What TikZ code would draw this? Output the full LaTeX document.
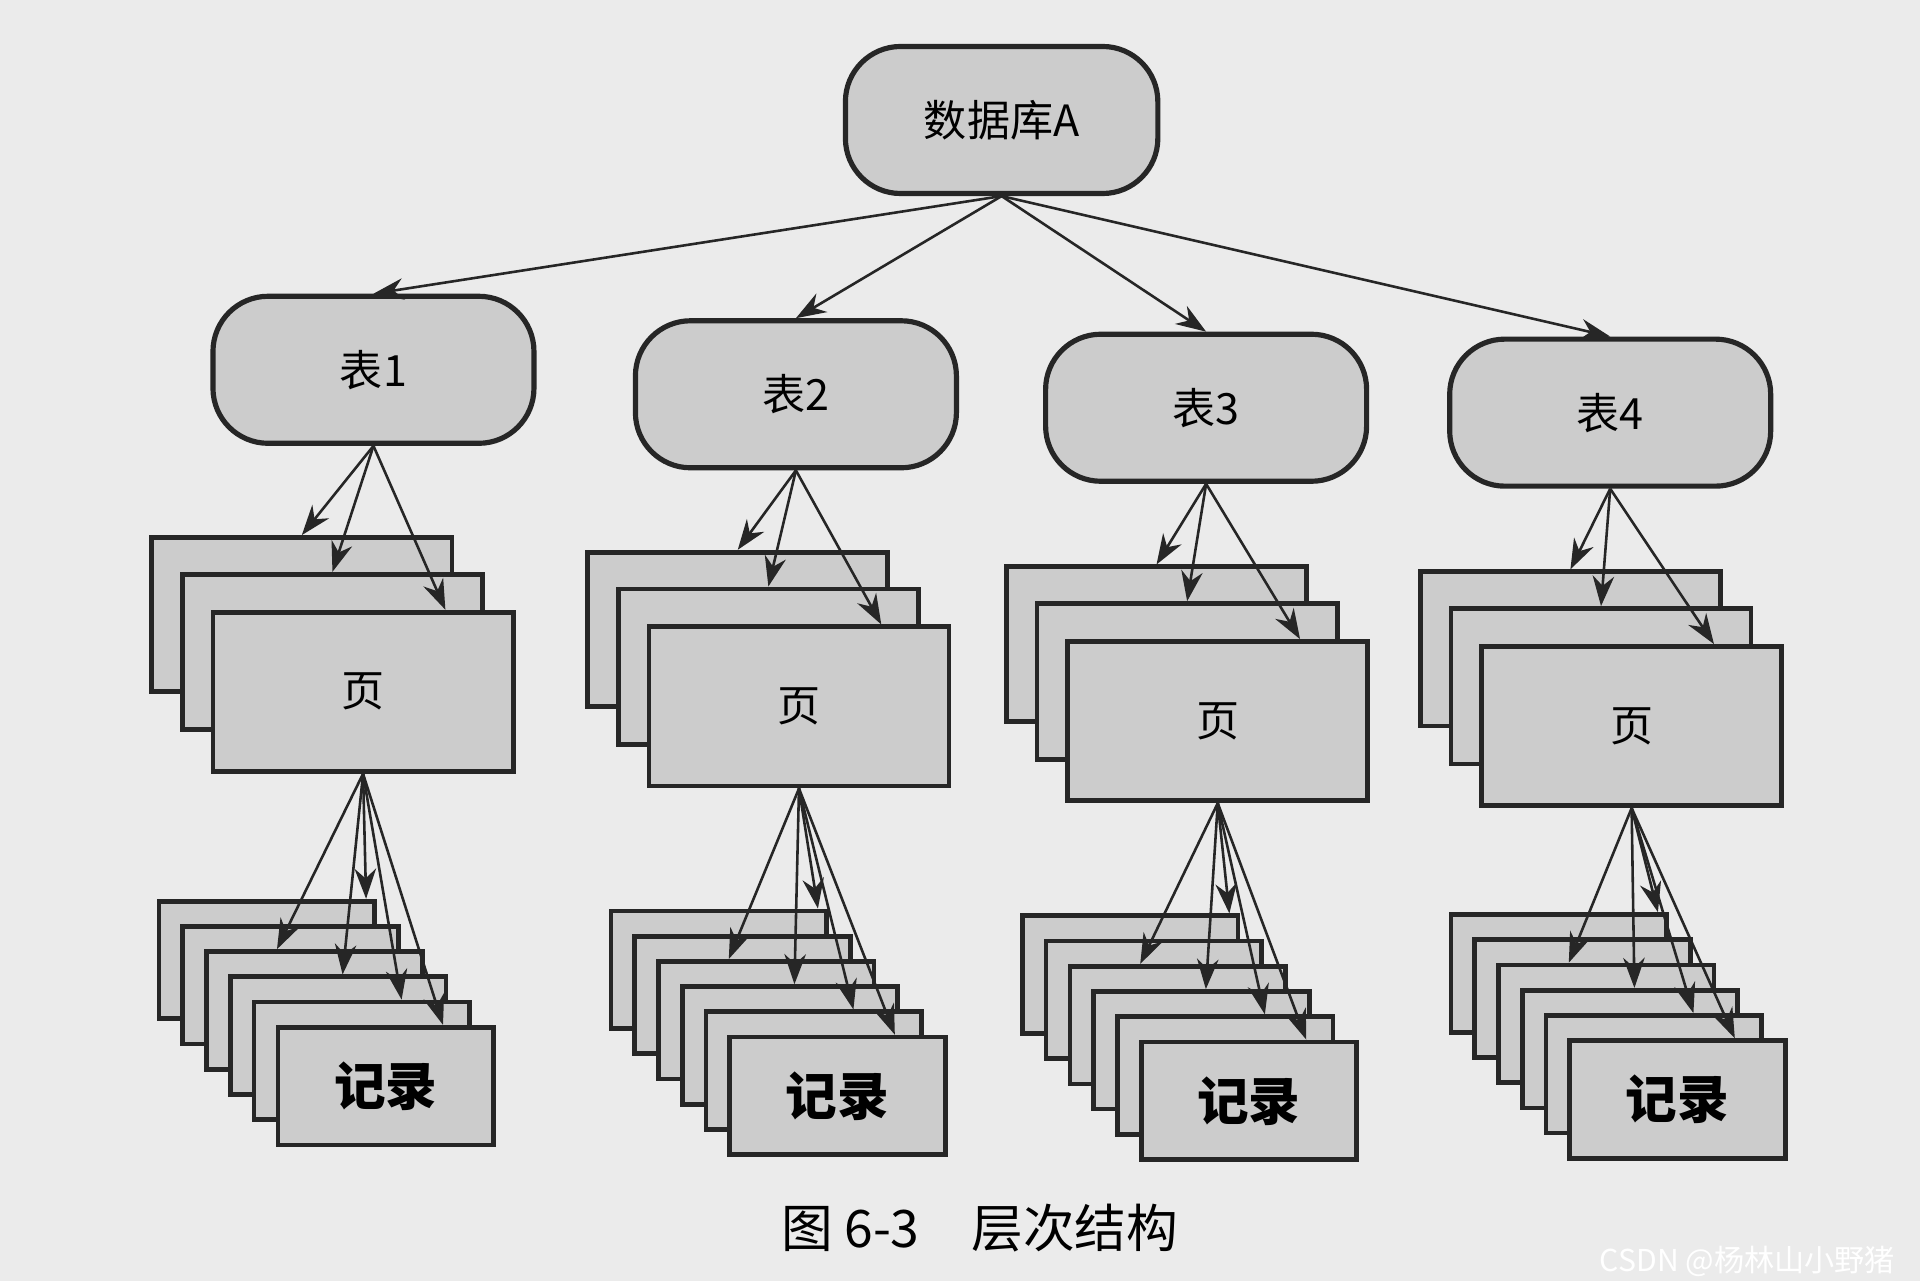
\documentclass[tikz,border=0pt]{standalone}
\usepackage{fontspec}
\newfontfamily\cjk{Noto Sans CJK SC}
\usetikzlibrary{calc,arrows.meta}
\begin{document}
\begin{tikzpicture}[x=0.01cm,y=-0.01cm,font=\cjk,
  rr/.style={draw=black!85,line width=1.2pt,fill=black!20,rounded corners=0.45cm,minimum width=2.62cm,minimum height=1.2cm,font=\cjk\normalsize},
  box/.style={draw=black!85,line width=1.1pt,fill=black!20,anchor=north west,inner sep=0pt},
  arr/.style={-{Stealth[length=7pt,width=5pt]},line width=0.6pt,black!85}]
\fill[black!8] (0,0) rectangle (1568,1046);
\useasboundingbox (0,0) rectangle (1568,1046);
\node[rr,minimum width=2.55cm] (db) at (818,98) {数据库A};
\newcommand\mkcol[8]{%
 \node[rr] (t#1) at (#6,#7) {表#1};
 \node[box,minimum width=2.45cm,minimum height=1.26cm] (p#1a) at (#2,#3) {};
 \node[box,minimum width=2.45cm,minimum height=1.27cm] (p#1b) at ($(#2,#3)+(25,30)$) {};
 \node[box,minimum width=2.45cm,minimum height=1.3cm,font=\cjk\normalsize] (p#1c) at ($(#2,#3)+(50,61)$) {页};
 \foreach \k in {0,...,5}{
   \node[box,minimum width=1.76cm,minimum height=0.96cm] (r#1\k) at ($(#4,#5)+(19.4*\k,20.6*\k)$) {};}
 \node[font=\cjk\large\bfseries] at (r#15) {#8};
 \draw[arr] (db.south) -- (t#1.north);
 \draw[arr] (t#1.south) -- (p#1a.north);
 \draw[arr] (t#1.south) -- (p#1b.north);
 \draw[arr] (t#1.south) -- ($(p#1c.north west)!0.77!(p#1c.north east)$);
 \draw[arr] (p#1c.south) -- ($(r#10.north west)!0.95!(r#10.north east)$);
 \draw[arr] (p#1c.south) -- ($(r#12.north west)!0.33!(r#12.north east)$);
 \draw[arr] (p#1c.south) -- ($(r#13.north west)!0.52!(r#13.north east)$);
 \draw[arr] (p#1c.south) -- ($(r#14.north west)!0.68!(r#14.north east)$);
 \draw[arr] (p#1c.south) -- ($(r#15.north west)!0.76!(r#15.north east)$);
}
\mkcol{1}{122}{437}{128}{734}{305}{302}{记录}
\mkcol{2}{478}{449}{497}{742}{650}{322}{记录}
\mkcol{3}{820}{461}{833}{746}{985}{333}{记录}
\mkcol{4}{1158}{465}{1183}{745}{1315}{337}{记录}
\node[font=\cjk\large] (cap) at (800,1003) {图 6-3\quad 层次结构};
\node[font=\cjk\scriptsize,text=white,anchor=east] (wm) at (1560,1030) {CSDN @杨林山小野猪};
\end{tikzpicture}
\end{document}
